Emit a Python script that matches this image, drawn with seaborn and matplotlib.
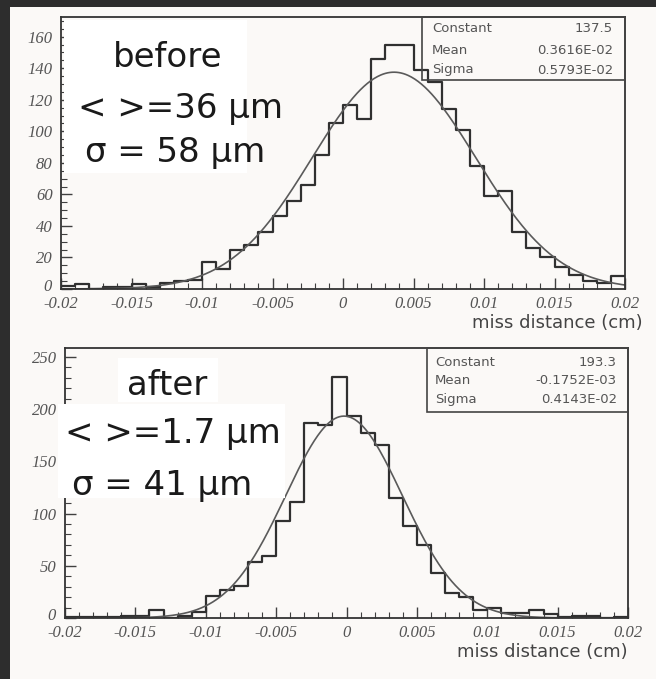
import numpy as np
import pandas as pd
import matplotlib
matplotlib.use("Agg")
import matplotlib.pyplot as plt
from matplotlib.patches import Rectangle
from matplotlib.transforms import ScaledTranslation
from matplotlib.ticker import MultipleLocator, FixedLocator, FixedFormatter
import seaborn as sns

# ---------------------------------------------------------------- data
x_range = (-0.02, 0.02)          # miss distance window (cm)
n_bins = 40

counts_before = [2, 3, 0, 1, 1, 3, 1, 4, 5, 6,
                 17, 13, 25, 28, 36, 46, 56, 66, 85, 105,
                 117, 108, 146, 155, 155, 139, 131, 114, 101, 78,
                 59, 62, 36, 26, 20, 14, 9, 5, 4, 8]
counts_after = [1, 1, 1, 1, 2, 2, 8, 0, 2, 6,
                21, 27, 31, 54, 59, 93, 111, 187, 185, 231,
                193, 177, 166, 115, 88, 70, 43, 24, 20, 8,
                10, 5, 5, 8, 4, 1, 2, 2, 0, 1]

# gaussian fit results: Constant, Mean, Sigma
fit_before = (137.5, 0.3616e-02, 0.5793e-02)
fit_after = (193.3, -0.1752e-03, 0.4143e-02)
stat_names = ["Constant", "Mean", "Sigma"]

label_before = ["before", "< >=36 \u00b5m", "\u03c3 = 58 \u00b5m"]
label_after = ["after", "< >=1.7 \u00b5m", "\u03c3 = 41 \u00b5m"]

x_tick_values = [-0.02, -0.015, -0.01, -0.005, 0.0, 0.005, 0.01, 0.015, 0.02]
x_tick_labels = ["-0.02", "-0.015", "-0.01", "-0.005", "0",
                 "0.005", "0.01", "0.015", "0.02"]
y_ticks_before = [0, 20, 40, 60, 80, 100, 120, 140, 160]
y_ticks_after = [0, 50, 100, 150, 200, 250]
x_title = "miss distance (cm)"

# ---------------------------------------------------------------- style
sns.set_style("ticks")
plt.rcParams["font.family"] = ["DejaVu Sans"]

PAGE = "#fbf9f7"
INK = "#333333"
GREY_TXT = "#555555"
W, H = 656, 679


def fx(px):
    return px / W


def fy(py):
    return 1 - py / H


def root_fmt(v):
    """PAW-style number: 0.xxxxE+yy"""
    e = int(np.floor(np.log10(abs(v)))) + 1
    return f"{v / 10 ** e:.4f}E{e:+03d}"


def stat_strings(fit):
    c, m, s = fit
    return [f"{c:.1f}", root_fmt(m), root_fmt(s)]


edges = np.linspace(x_range[0], x_range[1], n_bins + 1)
centers = 0.5 * (edges[:-1] + edges[1:])
xs = np.linspace(x_range[0], x_range[1], 500)


def gauss(x, fit):
    c, m, s = fit
    return c * np.exp(-0.5 * ((x - m) / s) ** 2)


fig = plt.figure(figsize=(W / 100, H / 100), dpi=100, facecolor=PAGE)

# dark scan border on top and left
fig.patches.append(Rectangle((0, fy(7)), 1, 7 / H, transform=fig.transFigure,
                             facecolor="#2d2d2d", edgecolor="none", zorder=5))
fig.patches.append(Rectangle((0, 0), fx(10), 1, transform=fig.transFigure,
                             facecolor="#2d2d2d", edgecolor="none", zorder=5))

panels = [
    dict(box=(61, 17, 625, 289), counts=counts_before, fit=fit_before,
         yticks=y_ticks_before, ymax=172.5, yminor=5,
         stat_box=(422, 80), stat_rows=(29, 50, 70), stat_x=(432, 613),
         title_xy=(643, 328)),
    dict(box=(65, 348, 628, 618), counts=counts_after, fit=fit_after,
         yticks=y_ticks_after, ymax=258.5, yminor=10,
         stat_box=(427, 412), stat_rows=(362, 380, 400), stat_x=(435, 617),
         title_xy=(628, 657)),
]

axes = []
for p in panels:
    l, t, r, b = p["box"]
    ax = fig.add_axes([fx(l), fy(b), (r - l) / W, (b - t) / H])
    ax.set_facecolor(PAGE)
    axes.append(ax)

    df = pd.DataFrame({"x": centers, "n": np.asarray(p["counts"], float)})
    sns.histplot(data=df, x="x", weights="n", bins=n_bins, binrange=x_range,
                 element="step", fill=False, color="#303030", linewidth=1.6,
                 ax=ax)
    curve = pd.DataFrame({"x": xs, "y": gauss(xs, p["fit"])})
    sns.lineplot(data=curve, x="x", y="y", color="#5a5a5a", linewidth=1.2,
                 ax=ax)

    ax.set_xlim(*x_range)
    ax.set_ylim(0, p["ymax"])
    ax.set_xlabel("")
    ax.set_ylabel("")

    ax.xaxis.set_major_locator(FixedLocator(x_tick_values))
    ax.xaxis.set_major_formatter(FixedFormatter(x_tick_labels))
    ax.xaxis.set_minor_locator(MultipleLocator(0.001))
    ax.yaxis.set_major_locator(FixedLocator(p["yticks"]))
    ax.yaxis.set_major_formatter(FixedFormatter([str(v) for v in p["yticks"]]))
    ax.yaxis.set_minor_locator(MultipleLocator(p["yminor"]))

    ax.tick_params(which="both", direction="in", color="#404040",
                   labelcolor=GREY_TXT, top=False, right=False)
    ax.tick_params(which="major", length=8, width=1.0)
    ax.tick_params(axis="x", which="major", pad=5)
    ax.tick_params(axis="y", which="major", pad=6)
    ax.tick_params(which="minor", length=4, width=0.8)
    for lab in ax.get_xticklabels() + ax.get_yticklabels():
        lab.set_fontfamily("Liberation Serif")
        lab.set_fontstyle("italic")
        lab.set_fontsize(12)
    for lab in ax.get_yticklabels():
        lab.set_verticalalignment("center_baseline")
    for sp in ax.spines.values():
        sp.set_visible(True)
        sp.set_color(INK)
        sp.set_linewidth(1.3)

    # statistics box in the upper right corner
    sx, sy = p["stat_box"]
    x0 = (sx - l) / (r - l)
    y0 = (b - sy) / (b - t)
    ax.add_patch(Rectangle((x0, y0), 1 - x0, 1 - y0, transform=ax.transAxes,
                           fill=False, edgecolor="#444444", linewidth=1.2,
                           zorder=6, clip_on=False))
    vals = stat_strings(p["fit"])
    tx0 = (p["stat_x"][0] - l) / (r - l)
    tx1 = (p["stat_x"][1] - l) / (r - l)
    for name, val, row in zip(stat_names, vals, p["stat_rows"]):
        yy = (b - row) / (b - t)
        ax.text(tx0, yy, name, transform=ax.transAxes, ha="left", va="center",
                fontsize=9.5, color=GREY_TXT, zorder=7)
        ax.text(tx1, yy, val, transform=ax.transAxes, ha="right", va="center",
                fontsize=9.5, color=GREY_TXT, zorder=7)

    tx, ty = p["title_xy"]
    fig.text(fx(tx), fy(ty), x_title, ha="right", va="baseline",
             fontsize=13, color="#444444")

# white label panels with the summary numbers
fig.patches.append(Rectangle((fx(64), fy(173)), fx(247) - fx(64), (173 - 20) / H,
                             transform=fig.transFigure, facecolor="white",
                             edgecolor="none", zorder=2))
fig.patches.append(Rectangle((fx(118), fy(402)), fx(218) - fx(118), (402 - 358) / H,
                             transform=fig.transFigure, facecolor="white",
                             edgecolor="none", zorder=2))
fig.patches.append(Rectangle((fx(58), fy(498)), fx(285) - fx(58), (498 - 404) / H,
                             transform=fig.transFigure, facecolor="white",
                             edgecolor="none", zorder=2))

big = dict(fontsize=24.5, color="#1a1a1a", ha="left", va="baseline", zorder=8,
           family=["DejaVu Sans"])
for text, (px, py) in zip(label_before, [(113, 67), (78, 118), (85, 162)]):
    fig.text(fx(px), fy(py), text, **big)
for text, (px, py) in zip(label_after, [(127, 395), (65, 443), (72, 495)]):
    fig.text(fx(px), fy(py), text, **big)

# lift the zero of each count axis clear of the first x label
for ax in axes:
    zero = ax.yaxis.get_major_ticks()[0].label1
    zero.set_transform(zero.get_transform()
                       + ScaledTranslation(-1 / 72, 3 / 72, fig.dpi_scale_trans))

fig.savefig("out.png", dpi=100, facecolor=PAGE)
